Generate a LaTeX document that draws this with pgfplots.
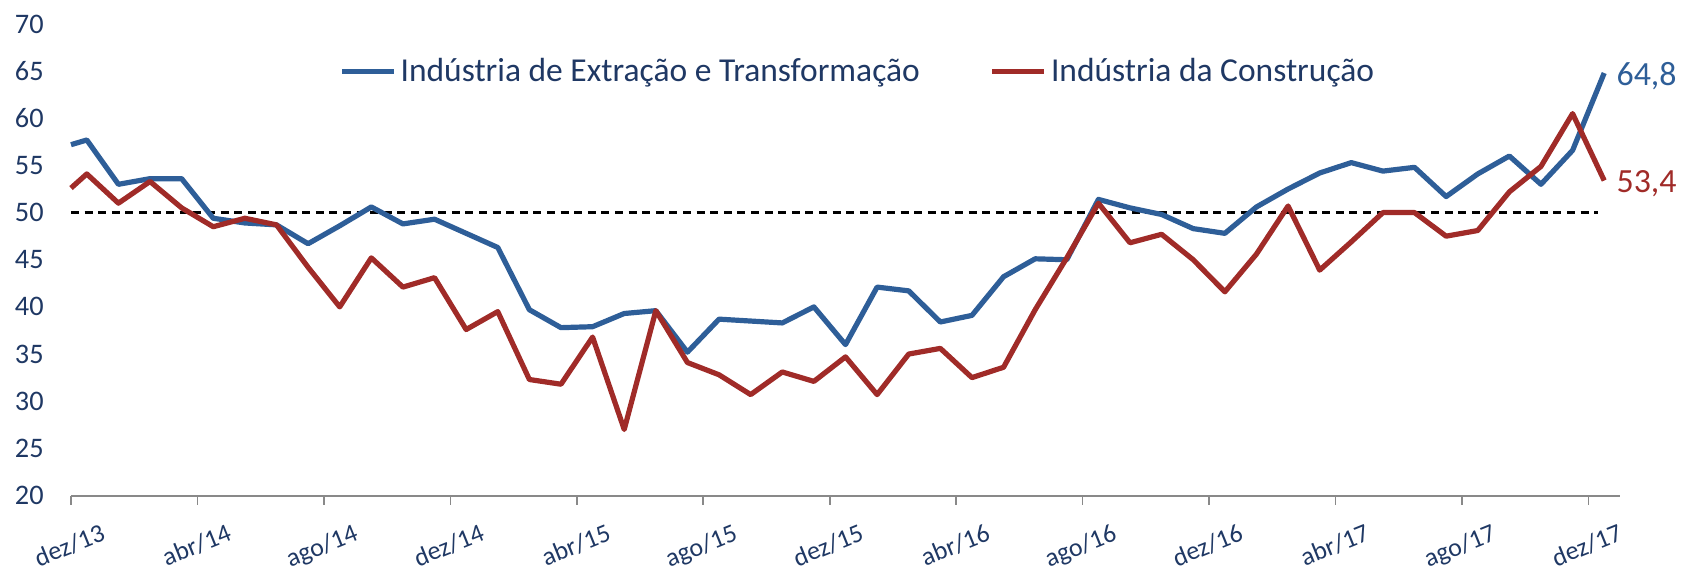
\documentclass[border=0pt]{standalone}
\usepackage{fontspec}
\setmainfont{Carlito}
\usepackage{pgfplots}
\pgfplotsset{compat=1.18}
\definecolor{cblue}{RGB}{46,94,152}
\definecolor{cred}{RGB}{160,43,40}
\definecolor{navy}{RGB}{31,56,100}
\definecolor{axgray}{RGB}{137,137,137}
\begin{document}
\begin{tikzpicture}
\begin{axis}[
  scale only axis,
  width=774.5bp, height=235.75bp,
  xmin=-0.5, xmax=48.5,
  ymin=20, ymax=70,
  ytick={20,25,...,70},
  xtick={0,4,...,48},
  xticklabels={dez/13,abr/14,ago/14,dez/14,abr/15,ago/15,dez/15,abr/16,ago/16,dez/16,abr/17,ago/17,dez/17},
  minor xtick={-0.5,3.5,...,47.5},
  major tick length=0pt,
  minor tick length=4.5bp,
  tick align=outside,
  axis lines*=left,
  x axis line style={-, draw=axgray, line width=1bp},
  y axis line style={draw=none},
  minor tick style={draw=axgray, line width=0.8bp},
  /pgf/number format/assume math mode=true,
  yticklabel style={font=\fontsize{14.2}{15}\selectfont, text=navy, anchor=east, inner sep=0pt, xshift=-13.5bp},
  xticklabel style={font=\fontsize{13}{14}\selectfont, text=navy, rotate=22, anchor=north east, inner sep=0pt, yshift=-15bp, xshift=1bp},
  clip=false,
  legend columns=2,
  legend style={at={(axis cs:7.98,65)}, anchor=west, draw=none, fill=none,
    font=\fontsize{16.8}{18}\selectfont, text=navy, inner sep=0pt,
    /tikz/every even column/.append style={column sep=33bp}},
  legend cell align=left,
  legend image code/.code={\draw[#1, line width=2.6bp] (0bp,0bp) -- (26bp,0bp);},
]
\addplot[black, line width=1.3bp, dash pattern=on 4bp off 2.8bp, forget plot] coordinates {(-0.5,50) (47.8,50)};
\addplot[cblue, line width=2.6bp, line join=round] coordinates {
(-0.5,57.2) (0,57.7) (1,53.0) (2,53.6) (3,53.6) (4,49.4) (5,48.9) (6,48.7) (7,46.7) (8,48.6)
(9,50.6) (10,48.8) (11,49.3) (12,47.8) (13,46.3) (14,39.7) (15,37.8) (16,37.9) (17,39.3) (18,39.6)
(19,35.2) (20,38.7) (21,38.5) (22,38.3) (23,40.0) (24,36.0) (25,42.1) (26,41.7) (27,38.4) (28,39.1)
(29,43.2) (30,45.1) (31,45.0) (32,51.4) (33,50.5) (34,49.8) (35,48.3) (36,47.8) (37,50.6) (38,52.5)
(39,54.2) (40,55.3) (41,54.4) (42,54.8) (43,51.7) (44,54.1) (45,56.0) (46,53.0) (47,56.6) (48,64.8)};
\addlegendentry{Indústria de Extração e Transformação}
\addplot[cred, line width=2.6bp, line join=round] coordinates {
(-0.5,52.6) (0,54.1) (1,51.0) (2,53.3) (3,50.5) (4,48.5) (5,49.4) (6,48.7) (7,44.2) (8,40.0)
(9,45.2) (10,42.1) (11,43.1) (12,37.6) (13,39.5) (14,32.3) (15,31.8) (16,36.8) (17,27.0) (18,39.6)
(19,34.1) (20,32.8) (21,30.7) (22,33.1) (23,32.1) (24,34.7) (25,30.7) (26,35.0) (27,35.6) (28,32.5)
(29,33.6) (30,39.7) (31,45.2) (32,51.0) (33,46.8) (34,47.7) (35,45.0) (36,41.6) (37,45.6) (38,50.7)
(39,43.9) (40,46.9) (41,50.0) (42,50.0) (43,47.5) (44,48.1) (45,52.2) (46,54.9) (47,60.5) (48,53.4)};
\addlegendentry{Indústria da Construção}
\node[anchor=west, text=cblue, font=\fontsize{17}{18}\selectfont, inner sep=0pt, xshift=6bp] at (axis cs:48,64.5) {64,8};
\node[anchor=west, text=cred, font=\fontsize{17}{18}\selectfont, inner sep=0pt, xshift=6bp] at (axis cs:48,53.1) {53,4};
\coordinate (sw) at (rel axis cs:0,0);
\end{axis}
\pgfresetboundingbox
\path ([shift={(-35.5bp,-41.75bp)}]sw) rectangle ([shift={(805bp,247.75bp)}]sw);
\end{tikzpicture}
\end{document}
